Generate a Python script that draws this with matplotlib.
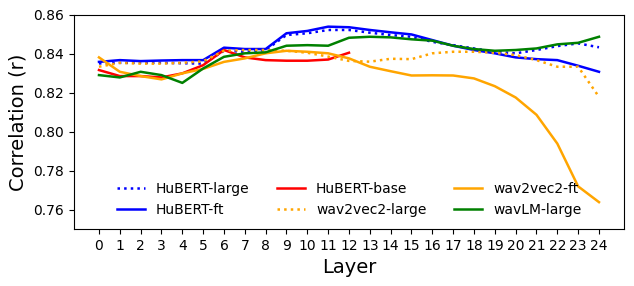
import matplotlib
matplotlib.use("Agg")
import matplotlib.pyplot as plt

layers = list(range(25))

hubert_large = [0.8351, 0.8354, 0.8354, 0.8354, 0.8352, 0.8350, 0.8416, 0.8411, 0.8420,
                0.8497, 0.8506, 0.8523, 0.8523, 0.8509, 0.8497, 0.8488, 0.8462, 0.8445,
                0.8428, 0.8411, 0.8403, 0.8420, 0.8440, 0.8454, 0.8434]
hubert_ft = [0.8359, 0.8368, 0.8363, 0.8366, 0.8368, 0.8368, 0.8432, 0.8425, 0.8425,
             0.8506, 0.8518, 0.8540, 0.8537, 0.8523, 0.8511, 0.8500, 0.8471, 0.8442,
             0.8420, 0.8403, 0.8382, 0.8373, 0.8368, 0.8339, 0.8308]
hubert_base = [0.8317, 0.8286, 0.8286, 0.8279, 0.8300, 0.8342, 0.8420, 0.8382, 0.8368,
               0.8365, 0.8365, 0.8371, 0.8406]
wav2vec2_large = [0.8334, 0.8354, 0.8350, 0.8350, 0.8354, 0.8362, 0.8416, 0.8420, 0.8420,
                  0.8416, 0.8406, 0.8386, 0.8364, 0.8360, 0.8375, 0.8373, 0.8403, 0.8411,
                  0.8411, 0.8406, 0.8394, 0.8368, 0.8334, 0.8334, 0.8179]
wav2vec2_ft = [0.8382, 0.8308, 0.8286, 0.8269, 0.8300, 0.8323, 0.8359, 0.8377, 0.8403,
               0.8416, 0.8411, 0.8403, 0.8377, 0.8334, 0.8311, 0.8289, 0.8290, 0.8289,
               0.8274, 0.8234, 0.8176, 0.8087, 0.7939, 0.7719, 0.7638]
wavlm_large = [0.8291, 0.8279, 0.8308, 0.8291, 0.8251, 0.8325, 0.8385, 0.8403, 0.8408,
               0.8442, 0.8445, 0.8442, 0.8483, 0.8488, 0.8485, 0.8475, 0.8468, 0.8442,
               0.8425, 0.8416, 0.8420, 0.8428, 0.8449, 0.8457, 0.8488]

fig = plt.figure(figsize=(6.34, 2.86), dpi=100)
ax = fig.add_axes([0.1167, 0.1993, 0.8675, 0.7483])

lw = 1.8
ax.plot(layers, hubert_large, ':', color='blue', lw=lw, label='HuBERT-large')
ax.plot(layers, hubert_ft, '-', color='blue', lw=lw, label='HuBERT-ft')
ax.plot(layers[:len(hubert_base)], hubert_base, '-', color='red', lw=lw, label='HuBERT-base')
ax.plot(layers, wav2vec2_large, ':', color='orange', lw=lw, label='wav2vec2-large')
ax.plot(layers, wav2vec2_ft, '-', color='orange', lw=lw, label='wav2vec2-ft')
ax.plot(layers, wavlm_large, '-', color='green', lw=lw, label='wavLM-large')

ax.set_ylim(0.75, 0.86)
ax.set_xticks(layers)
ax.set_yticks([0.76, 0.78, 0.80, 0.82, 0.84, 0.86])
ax.tick_params(labelsize=10)
ax.set_xlabel('Layer', fontsize=14)
ax.set_ylabel('Correlation (r)', fontsize=14)
ax.legend(ncol=3, loc='lower center', frameon=False, fontsize=10)

fig.savefig('out.png', dpi=100)
